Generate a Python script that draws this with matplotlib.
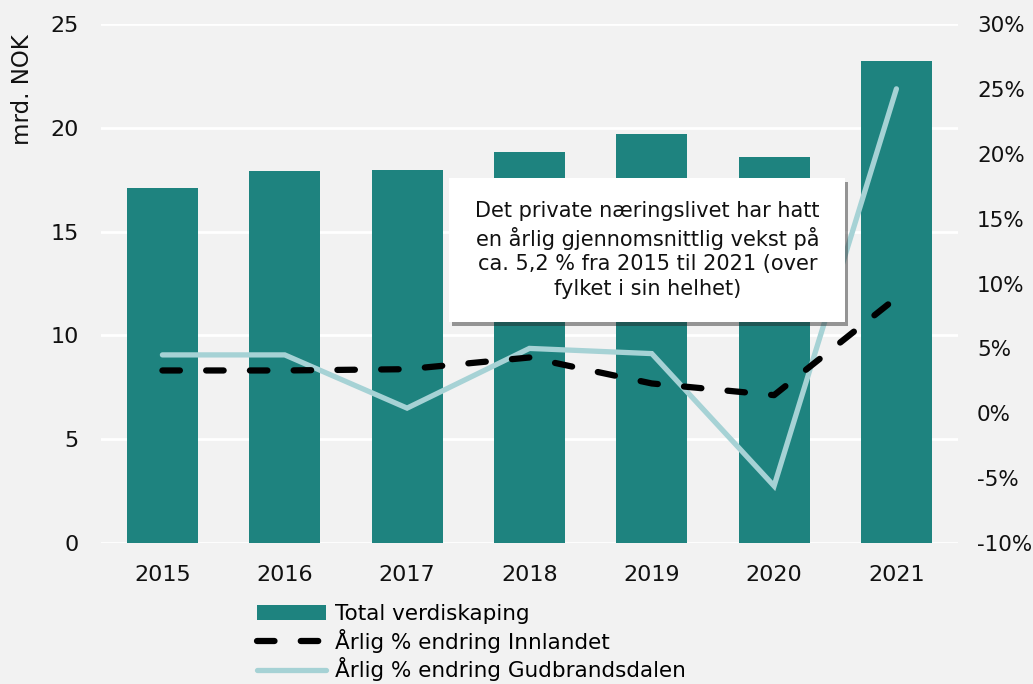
import numpy as np
import matplotlib.pyplot as plt
import matplotlib.patheffects as pe
from matplotlib.patches import Rectangle
from matplotlib.ticker import FuncFormatter

years = ["2015", "2016", "2017", "2018", "2019", "2020", "2021"]
total = [17.1, 17.9, 17.95, 18.85, 19.7, 18.6, 23.2]
innlandet = [3.3, 3.3, 3.4, 4.3, 2.3, 1.4, 8.9]
gudbrandsdalen = [4.5, 4.5, 0.4, 5.0, 4.6, -5.6, 25.0]

bg = "#f2f2f2"
teal = "#1e837f"
light = "#a6d2d5"

plt.rcParams['font.family'] = ['DejaVu Sans']

fig = plt.figure(figsize=(10.33, 6.84), dpi=100, facecolor=bg)
ax = fig.add_axes([0.098, 0.206, 0.829, 0.759], facecolor=bg)
x = np.arange(len(years))

ax.bar(x, total, width=0.58, color=teal, zorder=2, label="Total verdiskaping")
ax.set_ylim(0, 25)
ax.set_yticks(np.arange(0, 26, 5))
ax.set_xlim(-0.5, 6.5)
ax.set_xticks(x)
ax.set_xticklabels(years)
ax.grid(axis="y", color="white", lw=2, zorder=0)
ax.set_axisbelow(True)
ax.tick_params(axis="both", length=0, labelsize=16, colors="#111111")
ax.tick_params(axis="y", pad=16)
ax.tick_params(axis="x", pad=16)
for s in ax.spines.values():
    s.set_visible(False)
ax.set_ylabel("mrd. NOK", fontsize=16.5, color="#111111")
ax.yaxis.set_label_coords(-0.078, 0.873)

ax2 = ax.twinx()
ax2.set_ylim(-10, 30)
ax2.set_yticks(np.arange(-10, 31, 5))
ax2.yaxis.set_major_formatter(FuncFormatter(lambda v, p: f"{v:.0f}%"))
ax2.tick_params(axis="y", length=0, labelsize=15.5, pad=14, colors="#111111")
for s in ax2.spines.values():
    s.set_visible(False)

l2, = ax2.plot(x, gudbrandsdalen, color=light, lw=3.8, solid_capstyle="round",
               solid_joinstyle="miter", zorder=3, label="Årlig % endring Gudbrandsdalen")
l1, = ax2.plot(x, innlandet, color="black", lw=4.5, dashes=(2.8, 4.2),
               dash_capstyle="round", zorder=4, label="Årlig % endring Innlandet")

# annotation box with shadow
box = Rectangle((0.4065, 0.426), 0.4625, 0.277, transform=ax2.transAxes,
                facecolor="white", edgecolor="none", zorder=5)
box.set_path_effects([pe.SimplePatchShadow(offset=(2, -3), shadow_rgbFace="#222222", alpha=0.45),
                      pe.Normal()])
ax2.add_patch(box)
ax2.text(0.6378, 0.5645,
         "Det private næringslivet har hatt\nen årlig gjennomsnittlig vekst på\n"
         "ca. 5,2 % fra 2015 til 2021 (over\nfylket i sin helhet)",
         transform=ax2.transAxes, ha="center", va="center", fontsize=15,
         linespacing=1.3, color="#111111", zorder=6)

bars_handle = ax.containers[0]
fig.legend([bars_handle, l1, l2],
           ["Total verdiskaping", "Årlig % endring Innlandet", "Årlig % endring Gudbrandsdalen"],
           loc="upper left", bbox_to_anchor=(0.249, 0.117), frameon=False,
           fontsize=15.5, handlelength=3.2, handletextpad=0.4, labelspacing=0.22,
           borderpad=0, borderaxespad=0)

fig.savefig("out.png", dpi=100, facecolor=bg)
